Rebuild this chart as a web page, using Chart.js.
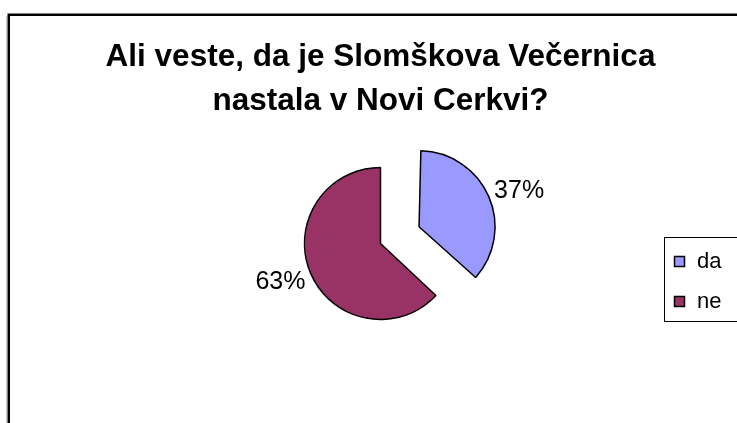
<!DOCTYPE html>
<html>
<head>
<meta charset="utf-8">
<script src="https://cdn.jsdelivr.net/npm/chart.js@4.4.1/dist/chart.umd.min.js"></script>
<style>
  html, body { margin: 0; padding: 0; background: #ffffff; }
  #wrap { position: relative; width: 737px; height: 423px; }
  canvas { display: block; }
</style>
</head>
<body>
<div id="wrap"><canvas id="c" width="737" height="423"></canvas></div>
<script>
// ---- data ----
const categories = ['da', 'ne'];
const values = [37, 63];
const valueLabels = ['37%', '63%'];
const sliceColors = ['#9999FF', '#993366'];
const titleLines = ['Ali veste, da je Slomškova Večernica', 'nastala v Novi Cerkvi?'];

const FONT = "'Liberation Sans', Arial, Helvetica, sans-serif";
const PIE_RADIUS = 76;
const EXPLODE = 42; // px translation of the exploded slice

// frame around the chart object
const framePlugin = {
  id: 'frame',
  beforeDraw(chart) {
    const ctx = chart.ctx;
    ctx.save();
    ctx.fillStyle = '#ffffff';
    ctx.fillRect(0, 0, chart.width, chart.height);
    ctx.strokeStyle = '#c8c8c8';
    ctx.lineWidth = 1;
    ctx.beginPath();
    ctx.moveTo(6.5, 16); ctx.lineTo(6.5, chart.height + 5);
    ctx.stroke();
    ctx.strokeStyle = '#000000';
    ctx.lineWidth = 2.5;
    ctx.strokeRect(8.75, 14.75, chart.width + 20, chart.height + 20);
    ctx.restore();
  }
};

// compensate Chart.js radius growth for offset arcs so both slices share one radius
const radiusFixPlugin = {
  id: 'radiusFix',
  afterDatasetsUpdate(chart) {
    const meta = chart.getDatasetMeta(0);
    meta.data.forEach(arc => {
      const off = (arc.options.offset || 0) / 4;
      const circ = arc.endAngle - arc.startAngle;
      const fix = 1 - Math.sin(Math.min(Math.PI, circ));
      arc.outerRadius = PIE_RADIUS - off * fix;
    });
  }
};

// percentage labels outside the slices
const labelPlugin = {
  id: 'pctLabels',
  afterDatasetsDraw(chart) {
    const ctx = chart.ctx;
    const meta = chart.getDatasetMeta(0);
    ctx.save();
    ctx.font = '25px ' + FONT;
    ctx.fillStyle = '#000000';
    ctx.textAlign = 'center';
    ctx.textBaseline = 'middle';
    meta.data.forEach((arc, i) => {
      const mid = (arc.startAngle + arc.endAngle) / 2;
      const off = (arc.options.offset || 0) / 4;
      const dx = Math.cos(mid), dy = Math.sin(mid);
      const cx = arc.x + dx * off, cy = arc.y + dy * off;
      const txt = valueLabels[i];
      const w = ctx.measureText(txt).width;
      const h = 18;
      const r = PIE_RADIUS + 8;
      const x = cx + dx * r + dx * w / 2;
      const y = cy + dy * r + dy * h / 2;
      ctx.fillText(txt, x, y + 1.5);
    });
    ctx.restore();
  }
};

// boxed legend at the right edge
const legendPlugin = {
  id: 'boxLegend',
  afterDraw(chart) {
    const ctx = chart.ctx;
    const ds = chart.data.datasets[0];
    ctx.save();
    ctx.strokeStyle = '#000000';
    ctx.lineWidth = 1;
    ctx.strokeRect(664.5, 237.5, 90, 84);
    ctx.font = '22px ' + FONT;
    ctx.textBaseline = 'alphabetic';
    ctx.textAlign = 'left';
    chart.data.labels.forEach((lab, i) => {
      const y0 = 256 + i * 40;
      ctx.fillStyle = ds.backgroundColor[i];
      ctx.fillRect(674.5, y0 + 0.5, 10, 10);
      ctx.strokeStyle = '#000000';
      ctx.lineWidth = 1.5;
      ctx.strokeRect(674.5, y0 + 0.5, 10, 10);
      ctx.fillStyle = '#000000';
      ctx.fillText(lab, 697, y0 + 12);
    });
    ctx.restore();
  }
};

new Chart(document.getElementById('c'), {
  type: 'pie',
  data: {
    labels: categories,
    datasets: [{
      data: values,
      backgroundColor: sliceColors,
      borderColor: '#000000',
      borderWidth: 1.5,
      offset: [EXPLODE * 4, 0],
      hoverOffset: 0
    }]
  },
  options: {
    responsive: false,
    animation: false,
    devicePixelRatio: 1,
    radius: PIE_RADIUS,
    layout: { padding: { left: 24, right: 0, top: 0, bottom: 68 } },
    events: [],
    plugins: {
      legend: { display: false },
      tooltip: { enabled: false },
      title: {
        display: true,
        text: titleLines,
        color: '#000000',
        font: { family: FONT, size: 31.5, weight: 'bold', lineHeight: 1.38 },
        padding: { top: 36, bottom: 9 }
      }
    }
  },
  plugins: [framePlugin, radiusFixPlugin, labelPlugin, legendPlugin]
});
</script>
</body>
</html>
